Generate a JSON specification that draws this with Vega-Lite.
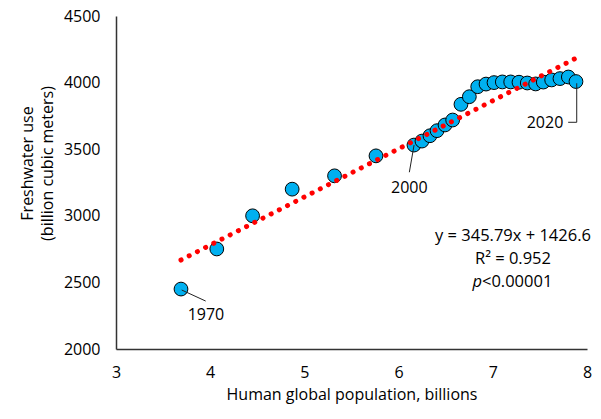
{
  "$schema": "https://vega.github.io/schema/vega-lite/v6.json",
  "width": 471,
  "height": 333,
  "autosize": {"type": "none"},
  "padding": {"left": 116, "top": 16, "right": 14, "bottom": 70},
  "background": "white",
  "config": {
    "view": {"stroke": null},
    "font": "Open Sans",
    "axis": {
      "grid": false,
      "ticks": false,
      "labelFlush": false,
      "domainColor": "#333333",
      "domainWidth": 1.5,
      "labelFont": "Open Sans",
      "labelFontSize": 16,
      "labelColor": "#000000",
      "titleFont": "Open Sans",
      "titleFontSize": 16,
      "titleFontWeight": "normal",
      "titleColor": "#000000"
    }
  },
  "datasets": {
    "points": [
      {"year": 1970, "pop": 3.69, "water": 2450},
      {"year": 1975, "pop": 4.07, "water": 2751},
      {"year": 1980, "pop": 4.45, "water": 3000},
      {"year": 1985, "pop": 4.87, "water": 3200},
      {"year": 1990, "pop": 5.32, "water": 3300},
      {"year": 1995, "pop": 5.76, "water": 3450},
      {"year": 2000, "pop": 6.163, "water": 3531},
      {"year": 2001, "pop": 6.248, "water": 3561},
      {"year": 2002, "pop": 6.333, "water": 3601},
      {"year": 2003, "pop": 6.408, "water": 3639},
      {"year": 2004, "pop": 6.493, "water": 3682},
      {"year": 2005, "pop": 6.574, "water": 3719},
      {"year": 2006, "pop": 6.662, "water": 3837},
      {"year": 2007, "pop": 6.751, "water": 3894},
      {"year": 2008, "pop": 6.84, "water": 3969},
      {"year": 2009, "pop": 6.928, "water": 3989},
      {"year": 2010, "pop": 7.013, "water": 4000},
      {"year": 2011, "pop": 7.101, "water": 4005},
      {"year": 2012, "pop": 7.19, "water": 4005},
      {"year": 2013, "pop": 7.278, "water": 4003},
      {"year": 2014, "pop": 7.366, "water": 3997},
      {"year": 2015, "pop": 7.455, "water": 3990},
      {"year": 2016, "pop": 7.536, "water": 4004},
      {"year": 2017, "pop": 7.625, "water": 4020},
      {"year": 2018, "pop": 7.713, "water": 4030},
      {"year": 2019, "pop": 7.802, "water": 4042},
      {"year": 2020, "pop": 7.883, "water": 4008}
    ],
    "trend": [
      {"pop": 3.69, "water": 2668},
      {"pop": 7.88, "water": 4182}
    ],
    "leaders": [
      {"x": 3.697, "y": 2443, "x2": 3.952, "y2": 2360},
      {"x": 6.164, "y": 3531, "x2": 6.114, "y2": 3327},
      {"x": 7.891, "y": 3995, "x2": 7.891, "y2": 3702},
      {"x": 7.891, "y": 3702, "x2": 7.8, "y2": 3702}
    ],
    "labels": [
      {"label": "1970", "x": 3.955, "y": 2255},
      {"label": "2000", "x": 6.114, "y": 3211},
      {"label": "2020", "x": 7.554, "y": 3694}
    ],
    "stats": [
      {"text": "y = 345.79x + 1426.6", "x": 7.214, "y": 2848},
      {"text": "R² = 0.952", "x": 7.214, "y": 2676}
    ]
  },
  "layer": [
    {
      "data": {"name": "points"},
      "mark": {"type": "point", "shape": "circle", "filled": true, "size": 190, "fill": "#00B0F0", "stroke": "#000000", "strokeWidth": 1, "opacity": 1},
      "encoding": {
        "x": {"field": "pop", "type": "quantitative", "scale": {"domain": [3, 8], "nice": false, "zero": false}, "axis": {"values": [3, 4, 5, 6, 7, 8], "format": "d", "labelPadding": 15, "titlePadding": 6, "title": "Human global population, billions"}},
        "y": {"field": "water", "type": "quantitative", "scale": {"domain": [2000, 4500], "nice": false, "zero": false}, "axis": {"values": [2000, 2500, 3000, 3500, 4000, 4500], "format": "d", "labelPadding": 16, "titlePadding": 8, "titleLineHeight": 20, "titleY": 147, "title": ["Freshwater use", "(billion cubic meters)"]}}
      }
    },
    {
      "data": {"name": "trend"},
      "mark": {"type": "line", "color": "#FF0000", "strokeWidth": 5, "strokeCap": "round", "strokeDash": [0.1, 9.1]},
      "encoding": {
        "x": {"field": "pop", "type": "quantitative"},
        "y": {"field": "water", "type": "quantitative"}
      }
    },
    {
      "data": {"name": "leaders"},
      "mark": {"type": "rule", "color": "#222222", "strokeWidth": 1},
      "encoding": {
        "x": {"field": "x", "type": "quantitative"},
        "y": {"field": "y", "type": "quantitative"},
        "x2": {"field": "x2"},
        "y2": {"field": "y2"}
      }
    },
    {
      "data": {"name": "labels"},
      "mark": {"type": "text", "fontSize": 16, "color": "#000000", "align": "center", "baseline": "middle"},
      "encoding": {
        "x": {"field": "x", "type": "quantitative"},
        "y": {"field": "y", "type": "quantitative"},
        "text": {"field": "label"}
      }
    },
    {
      "data": {"name": "stats"},
      "mark": {"type": "text", "fontSize": 16.5, "color": "#000000", "align": "center", "baseline": "middle"},
      "encoding": {
        "x": {"field": "x", "type": "quantitative"},
        "y": {"field": "y", "type": "quantitative"},
        "text": {"field": "text"}
      }
    },
    {
      "data": {"values": [{"text": "p", "x": 6.885, "y": 2503}]},
      "mark": {"type": "text", "fontSize": 16.5, "fontStyle": "italic", "color": "#000000", "align": "right", "baseline": "middle"},
      "encoding": {
        "x": {"field": "x", "type": "quantitative"},
        "y": {"field": "y", "type": "quantitative"},
        "text": {"field": "text"}
      }
    },
    {
      "data": {"values": [{"text": "<0.00001", "x": 6.885, "y": 2503}]},
      "mark": {"type": "text", "fontSize": 16.5, "color": "#000000", "align": "left", "baseline": "middle"},
      "encoding": {
        "x": {"field": "x", "type": "quantitative"},
        "y": {"field": "y", "type": "quantitative"},
        "text": {"field": "text"}
      }
    }
  ]
}
